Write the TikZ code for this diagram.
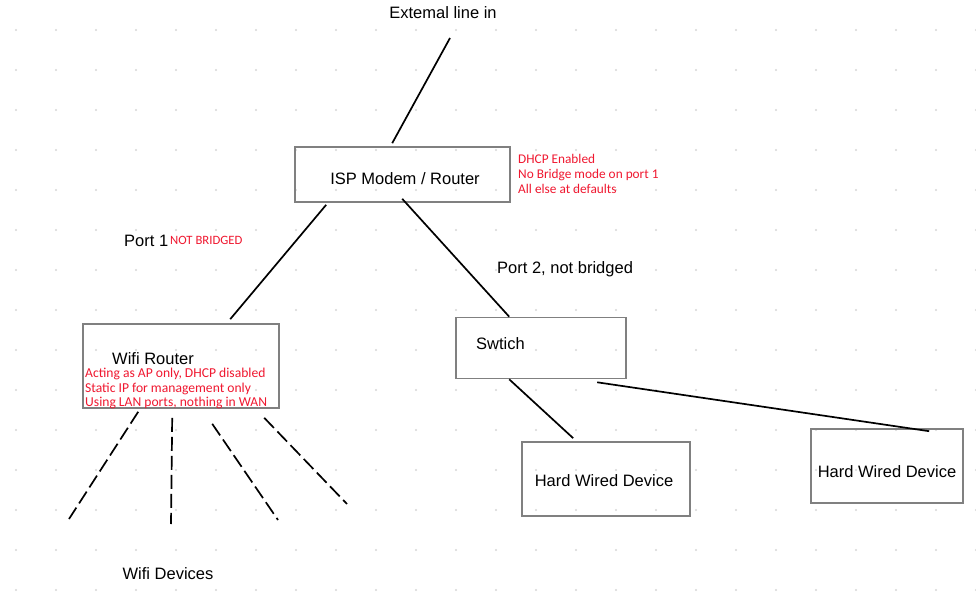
\documentclass[tikz,border=0pt]{standalone}
\usepackage{fontspec}
\setmainfont{Liberation Sans}
\newfontfamily\redfont{Carlito}
\usetikzlibrary{calc}
\definecolor{boxgray}{RGB}{128,128,128}
\definecolor{dotgray}{RGB}{215,215,215}
\definecolor{notered}{RGB}{240,24,48}
\tikzset{
  box/.style={draw=boxgray, line width=1.6pt, inner sep=0pt, minimum width=#1},
  wire/.style={black, line width=1.7pt},
  wifiwire/.style={black, line width=1.7pt, dash pattern=on 14pt off 5pt},
  lbl/.style={inner sep=0pt, font=\fontsize{16.5}{19}\selectfont},
  rednote/.style={inner sep=0pt, text=notered, align=left, font=\redfont\fontsize{13.3}{#1}\selectfont},
}
\begin{document}
\begin{tikzpicture}[x=1pt, y=-1pt]
\useasboundingbox (0,0) rectangle (976,601);
\fill[white] (0,0) rectangle (976,601);
% grid dots
\foreach \i in {0,...,24}
  \foreach \j in {0,...,14}
    \fill[dotgray] ({16+40*\i},{30+40*\j}) circle (1.1pt);

% boxes
\node[box=215pt, minimum height=55pt] (isp) at (402.5,174.5) {};
\node[box=196pt, minimum height=84pt] (wifi) at (181,366) {};
\node[box=170pt, minimum height=61pt] (sw) at (541,348) {};
\node[box=168pt, minimum height=74pt] (hw1) at (606,479) {};
\node[box=152pt, minimum height=74pt] (hw2) at (887,466) {};

% labels
\node[lbl] (ext) at (443,13) {Extemal line in};
\node[lbl] (isplbl) at (405,179) {ISP Modem / Router};
\node[lbl, anchor=west] (port1) at (124,241) {Port 1};
\node[rednote=14, anchor=west, font=\redfont\fontsize{12.7}{14}\selectfont] (nb) at (170,240) {NOT BRIDGED};
\node[lbl, anchor=west] (port2) at (497,269) {Port 2, not bridged};
\node[lbl, anchor=west] (wifilbl) at (112,358.5) {Wifi Router};
\node[lbl] (devs) at (168,574) {Wifi Devices};
\node[lbl, anchor=west] (swlbl) at (476,344) {Swtich};
\node[lbl] (hw1lbl) at (604,481) {Hard Wired Device};
\node[lbl] (hw2lbl) at (887,472) {Hard Wired Device};

\node[rednote=15, anchor=west] (ispnote) at (518,174)
  {DHCP Enabled\\No Bridge mode on port 1\\All else at defaults};
\node[rednote=14.5, anchor=west, font=\redfont\fontsize{13.6}{14.5}\selectfont] (wifinote) at (85,388.5)
  {Acting as AP only, DHCP disabled\\Static IP for management only\\Using LAN ports, nothing in WAN};

% connectors
\coordinate (extend) at (450,38);
\draw[wire] (extend) -- ($(isp.north west)+(98,-3)$);
\draw[wire] ($(isp.south west)+(32,2)$) -- ($(wifi.north west)+(148,-4)$);
\draw[wire] ($(isp.south west)+(108,-4)$) -- ($(sw.north west)+(54,0)$);
\draw[wire] ($(sw.south west)+(54,0)$) -- ($(hw1.north west)+(52,-3)$);
\draw[wire] ($(sw.south west)+(142,3)$) -- ($(hw2.north west)+(119,3)$);

% wifi devices (free ends)
\coordinate (d1) at (69,519);
\coordinate (d2) at (171,524);
\coordinate (d3) at (278,520);
\coordinate (d4) at (347,504);
\draw[wifiwire] ($(wifi.south west)+(56,3)$) -- (d1);
\draw[wifiwire] ($(wifi.south west)+(90,9)$) -- (d2);
\draw[wifiwire] ($(wifi.south west)+(130,15)$) -- (d3);
\draw[wifiwire] ($(wifi.south west)+(182,9)$) -- (d4);
\end{tikzpicture}
\end{document}
